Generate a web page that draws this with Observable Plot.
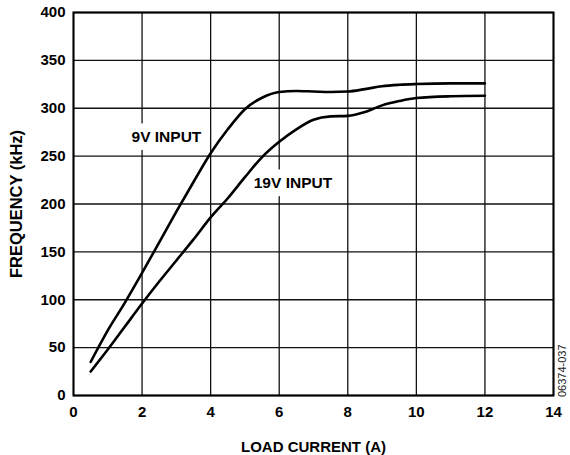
<!DOCTYPE html>
<html>
<head>
<meta charset="utf-8">
<script src="https://cdn.jsdelivr.net/npm/d3@7"></script>
<script src="https://cdn.jsdelivr.net/npm/@observablehq/plot@0.6"></script>
<style>
  html, body { margin: 0; padding: 0; background: #fff; }
  #wrap { position: relative; width: 570px; height: 455px; overflow: hidden; }
  #code { position: absolute; left: 556px; top: 397px; transform: rotate(-90deg); transform-origin: 0 0;
          font: 11px/13px "Liberation Sans", Arial, sans-serif; color: #222; white-space: nowrap; }
</style>
</head>
<body>
<div id="wrap"><div id="code">06374-037</div></div>
<script>
const loadCurrent = [0.5, 1.0, 1.5, 2.0, 2.5, 3.0, 3.5, 4.0, 4.5, 5.0, 5.5, 6.0, 6.5, 7.0, 7.5, 8.0, 8.5, 9.0, 9.5, 10, 11, 12];
const freq9V  = [35, 68, 97, 128, 160, 192, 223, 253, 278, 299, 311, 317, 318, 317.5, 317, 317.5, 320, 323, 324.5, 325.3, 326, 326];
const freq19V = [25, 48, 72, 96, 119, 141, 163, 186, 206, 228, 249, 265, 278, 288, 291.5, 292, 296, 303, 307.5, 310.7, 312.5, 313];
const xTicks = [0, 2, 4, 6, 8, 10, 12, 14];
const yTicks = [0, 50, 100, 150, 200, 250, 300, 350, 400];
const seriesLabels = [
  {x: 2.71, y: 269.5, text: "9V INPUT"},
  {x: 6.40, y: 221.4, text: "19V INPUT"}
];

const data = [
  ...loadCurrent.map((x, i) => ({x, y: freq9V[i], s: "9V"})),
  ...loadCurrent.map((x, i) => ({x, y: freq19V[i], s: "19V"}))
];

const chart = Plot.plot({
  width: 570,
  height: 455,
  marginLeft: 73,
  marginRight: 17,
  marginTop: 12,
  marginBottom: 60,
  style: {fontFamily: "'Liberation Sans', Arial, sans-serif", fontWeight: "bold", fontSize: "15px", background: "white", color: "black"},
  x: {domain: [0, 14]},
  y: {domain: [0, 400]},
  marks: [
    Plot.ruleX(xTicks, {stroke: "#111", strokeWidth: 1.3}),
    Plot.ruleY(yTicks, {stroke: "#111", strokeWidth: 1.3}),
    Plot.text(seriesLabels, {x: "x", y: "y", text: "text", fontSize: 15.5, fontWeight: "bold", fill: "black", stroke: "white", strokeWidth: 17, strokeLinejoin: "round"}),
    Plot.line(data, {x: "x", y: "y", z: "s", curve: "monotone-x", stroke: "black", strokeWidth: 2.6}),
    Plot.frame({stroke: "black", strokeWidth: 2}),
    Plot.axisX({ticks: xTicks, tickSize: 0, tickPadding: 11, fontSize: 15, label: "LOAD CURRENT (A)", labelAnchor: "center", labelArrow: "none", labelOffset: 56}),
    Plot.axisY({ticks: yTicks, tickSize: 0, tickPadding: 8, fontSize: 15, label: null}),
    Plot.axisY({ticks: [], tickSize: 0, fontSize: 16.5, label: "FREQUENCY (kHz)", labelAnchor: "center", labelArrow: "none", labelOffset: 63})
  ]
});
document.getElementById("wrap").prepend(chart);
</script>
</body>
</html>
